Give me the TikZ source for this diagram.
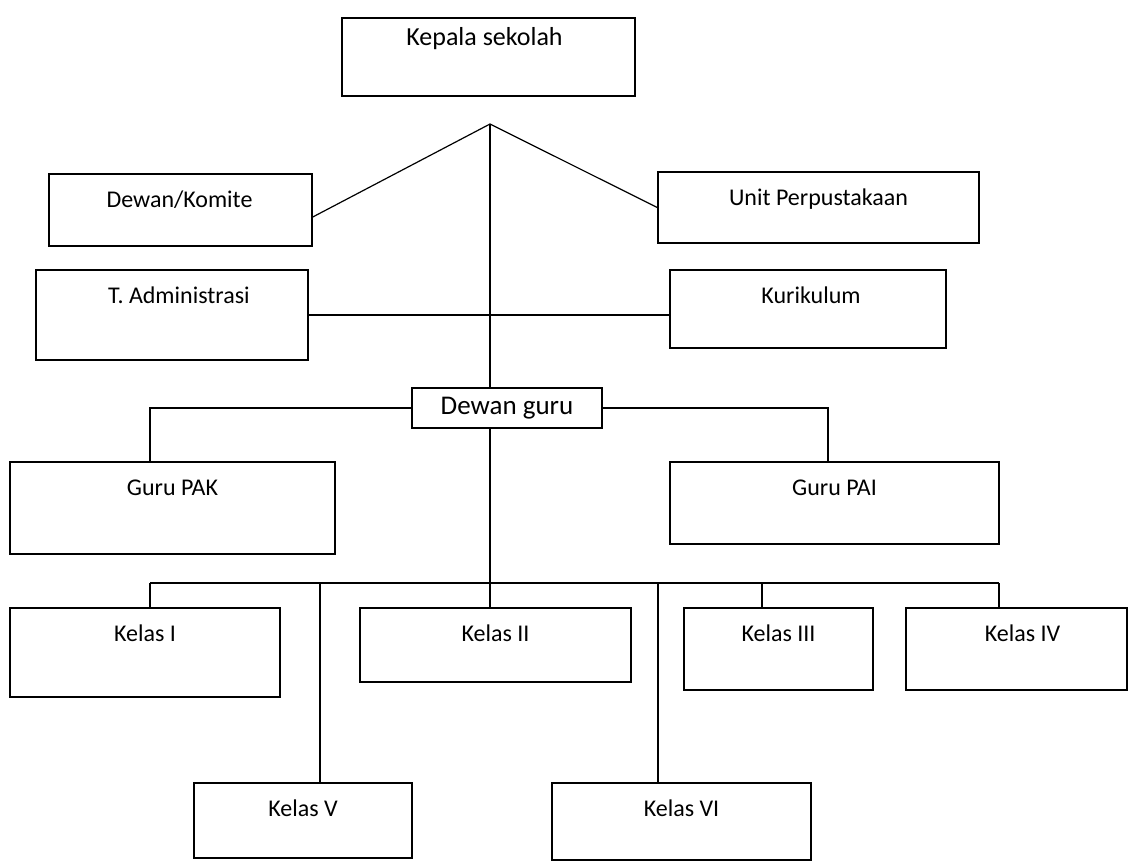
\documentclass[tikz,border=0pt]{standalone}
\usepackage{fontspec}
\setmainfont{Carlito}
\begin{document}
\begin{tikzpicture}[x=1pt,y=-1pt,
  box/.style={draw=black,line width=1.5pt,rectangle,inner sep=0pt},
  lbl/.style={font=\fontsize{24}{26}\selectfont,anchor=base,inner sep=0pt,yshift=-34pt},
  conn/.style={draw=black,line width=1.5pt},
  thin/.style={draw=black,line width=1.2pt}]
\useasboundingbox (0,0) rectangle (1129,863);
% boxes
\node[box,minimum width=293pt,minimum height=78pt,
  label={[lbl,font=\fontsize{26}{28}\selectfont,yshift=6pt,xshift=-4pt]north:Kepala sekolah}] (ks) at (488.5,57) {};
\node[box,minimum width=263pt,minimum height=72pt,
  label={[lbl,xshift=-1pt]north:Dewan/Komite}] (dk) at (180.5,210) {};
\node[box,minimum width=321pt,minimum height=71pt,
  label={[lbl]north:Unit Perpustakaan}] (up) at (818.5,207.5) {};
\node[box,minimum width=272pt,minimum height=90pt,
  label={[lbl,xshift=7pt]north:T. Administrasi}] (ta) at (172,315) {};
\node[box,minimum width=276pt,minimum height=78pt,
  label={[lbl,xshift=3pt]north:Kurikulum}] (kr) at (808,309) {};
\node[box,minimum width=190pt,minimum height=40pt,font=\fontsize{27}{29}\selectfont] (dg) at (507,408) {Dewan guru};
\node[box,minimum width=325pt,minimum height=92pt,
  label={[lbl]north:Guru PAK}] (pak) at (172.5,508) {};
\node[box,minimum width=329pt,minimum height=82pt,
  label={[lbl]north:Guru PAI}] (pai) at (834.5,503) {};
\node[box,minimum width=270pt,minimum height=89pt,
  label={[lbl]north:Kelas I}] (k1) at (145,652.5) {};
\node[box,minimum width=271pt,minimum height=74pt,
  label={[lbl]north:Kelas II}] (k2) at (495.5,645) {};
\node[box,minimum width=189pt,minimum height=82pt,
  label={[lbl]north:Kelas III}] (k3) at (778.5,649) {};
\node[box,minimum width=221pt,minimum height=82pt,
  label={[lbl,xshift=6pt]north:Kelas IV}] (k4) at (1016.5,649) {};
\node[box,minimum width=218pt,minimum height=75pt,
  label={[lbl]north:Kelas V}] (k5) at (303,820.5) {};
\node[box,minimum width=259pt,minimum height=77pt,
  label={[lbl]north:Kelas VI}] (k6) at (681.5,821.5) {};
% coordinates
\coordinate (apex) at (490,124);
\coordinate (pakc) at (150,462);
\coordinate (paic) at (828,462);
\coordinate (busl) at (150,583);
\coordinate (busr) at (999,583);
\coordinate (b5) at (320,583);
\coordinate (b6) at (658,583);
\coordinate (b3) at (762,583);
% connectors
\draw[thin] ([yshift=-7pt]dk.east) -- (apex) -- (up.west);
\draw[thin] (apex) -- (apex |- dg.north);
\draw[conn] (ta.east) -- (ta.east -| kr.west);
\draw[conn] (dg.west) -| (pakc);
\draw[conn] (dg.east) -| (paic);
\draw[conn] (apex |- dg.south) -- (apex |- k2.north);
\draw[conn] (busl) -- (busr);
\draw[conn] (busl) -- (busl |- k1.north);
\draw[conn] (b5) -- (b5 |- k5.north);
\draw[conn] (b6) -- (b6 |- k6.north);
\draw[conn] (b3) -- (b3 |- k3.north);
\draw[conn] (busr) -- (busr |- k4.north);
\end{tikzpicture}
\end{document}
